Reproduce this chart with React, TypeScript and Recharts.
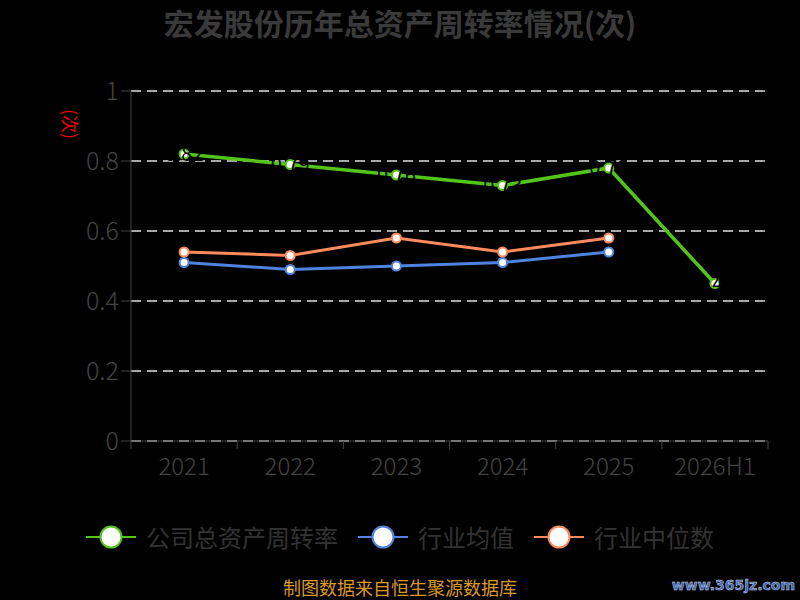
import { CartesianGrid, LabelList, Line, LineChart, XAxis, YAxis } from "recharts";

const years = ["2021", "2022", "2023", "2024", "2025", "2026H1"];
const companyTurnover = [0.82, 0.79, 0.76, 0.73, 0.78, 0.45];
const industryAvg = [0.51, 0.49, 0.5, 0.51, 0.54, null];
const industryMedian = [0.54, 0.53, 0.58, 0.54, 0.58, null];
const yTicks = [0, 0.2, 0.4, 0.6, 0.8, 1];

const seriesMeta = [
  { key: "company", name: "公司总资产周转率", color: "#52c41a" },
  { key: "avg", name: "行业均值", color: "#4e84e0" },
  { key: "median", name: "行业中位数", color: "#ff8a5c" }
];

const data = years.map((year, i) => ({
  year,
  company: companyTurnover[i],
  avg: industryAvg[i],
  median: industryMedian[i]
}));

const FONT = '"Noto Sans CJK SC", "Noto Sans", sans-serif';
const AXIS = "#444";
const W = 800;
const H = 600;
const LEFT = 131;
const RIGHT = 32;
const BAND = (W - LEFT - RIGHT) / years.length;

// echarts-style category axis: labels in the band centre, ticks on the band edges
function XTick(props: any) {
  const { x, y, payload, index } = props;
  const last = index === years.length - 1;
  return (
    <g>
      <line x1={x - BAND / 2} x2={x - BAND / 2} y1={y - 8} y2={y} stroke={AXIS} />
      {last && <line x1={x + BAND / 2} x2={x + BAND / 2} y1={y - 8} y2={y} stroke={AXIS} />}
      <text x={x} y={y + 26} textAnchor="middle" fill={AXIS} fontSize={24} fontWeight={300} fontFamily={FONT}>
        {payload.value}
      </text>
    </g>
  );
}

function LegendBox() {
  return (
    <div
      style={{
        position: "absolute",
        top: 521,
        left: 0,
        width: W,
        display: "flex",
        justifyContent: "center",
        gap: 20,
        fontFamily: FONT
      }}
    >
      {seriesMeta.map((s) => (
        <div key={s.key} style={{ display: "flex", alignItems: "center" }}>
          <svg width={50} height={32}>
            <line x1={0} x2={50} y1={16} y2={16} stroke={s.color} strokeWidth={2} />
            <circle cx={25} cy={16} r={10.5} fill="#fff" stroke={s.color} strokeWidth={2} />
          </svg>
          <span style={{ marginLeft: 10, fontSize: 24, lineHeight: "32px", color: "#333" }}>{s.name}</span>
        </div>
      ))}
    </div>
  );
}

export default function App() {
  return (
    <div style={{ position: "relative", width: W, height: H, background: "#000", fontFamily: FONT, overflow: "hidden" }}>
      <style>{"body{margin:0;background:#000}"}</style>
      <div
        style={{
          position: "absolute",
          top: 0,
          width: W,
          textAlign: "center",
          fontSize: 30,
          lineHeight: "44px",
          fontWeight: "bold",
          color: "#3a3a3a"
        }}
      >
        宏发股份历年总资产周转率情况(次)
      </div>
      <div
        style={{
          position: "absolute",
          left: 56,
          top: 113,
          fontSize: 18,
          lineHeight: "22px",
          color: "#e00",
          transform: "rotate(90deg)"
        }}
      >
        (次)
      </div>
      <LineChart width={W} height={H} data={data} margin={{ top: 91, right: RIGHT, left: 0, bottom: 119 }}>
        <CartesianGrid horizontal vertical={false} stroke="#e0e0e0" strokeWidth={1.3} strokeDasharray="10 6" />
        <XAxis
          dataKey="year"
          scale="band"
          stroke={AXIS}
          tickLine={false}
          tick={<XTick />}
          height={40}
        />
        <YAxis
          domain={[0, 1]}
          ticks={yTicks}
          width={LEFT}
          stroke={AXIS}
          tickSize={10}
          tick={{ fill: AXIS, fontSize: 25, fontWeight: 300, fontFamily: FONT }}
        />
        <Line
          dataKey="avg"
          name="行业均值"
          stroke={seriesMeta[1].color}
          strokeWidth={3}
          dot={{ r: 4.5, fill: "#fff", stroke: seriesMeta[1].color, strokeWidth: 2 }}
          isAnimationActive={false}
        />
        <Line
          dataKey="median"
          name="行业中位数"
          stroke={seriesMeta[2].color}
          strokeWidth={3}
          dot={{ r: 4.5, fill: "#fff", stroke: seriesMeta[2].color, strokeWidth: 2 }}
          isAnimationActive={false}
        />
        <Line
          dataKey="company"
          name="公司总资产周转率"
          stroke={seriesMeta[0].color}
          strokeWidth={3.5}
          dot={{ r: 4.5, fill: "#fff", stroke: seriesMeta[0].color, strokeWidth: 2 }}
          isAnimationActive={false}
        >
          <LabelList dataKey="company" position="center" fill="#000" fontSize={20} fontFamily={FONT} />
        </Line>
      </LineChart>
      <LegendBox />
      <div
        style={{
          position: "absolute",
          top: 578,
          width: W,
          textAlign: "center",
          fontSize: 18,
          lineHeight: "19px",
          color: "#d99a26"
        }}
      >
        制图数据来自恒生聚源数据库
      </div>
      <div
        style={{
          position: "absolute",
          right: 5,
          top: 575,
          fontSize: 14,
          lineHeight: "20px",
          fontWeight: "bold",
          fontFamily: "DejaVu Sans",
          color: "#3a64b0",
          WebkitTextStroke: "0.5px #cfd8ea"
        }}
      >
        www.365jz.com
      </div>
    </div>
  );
}
